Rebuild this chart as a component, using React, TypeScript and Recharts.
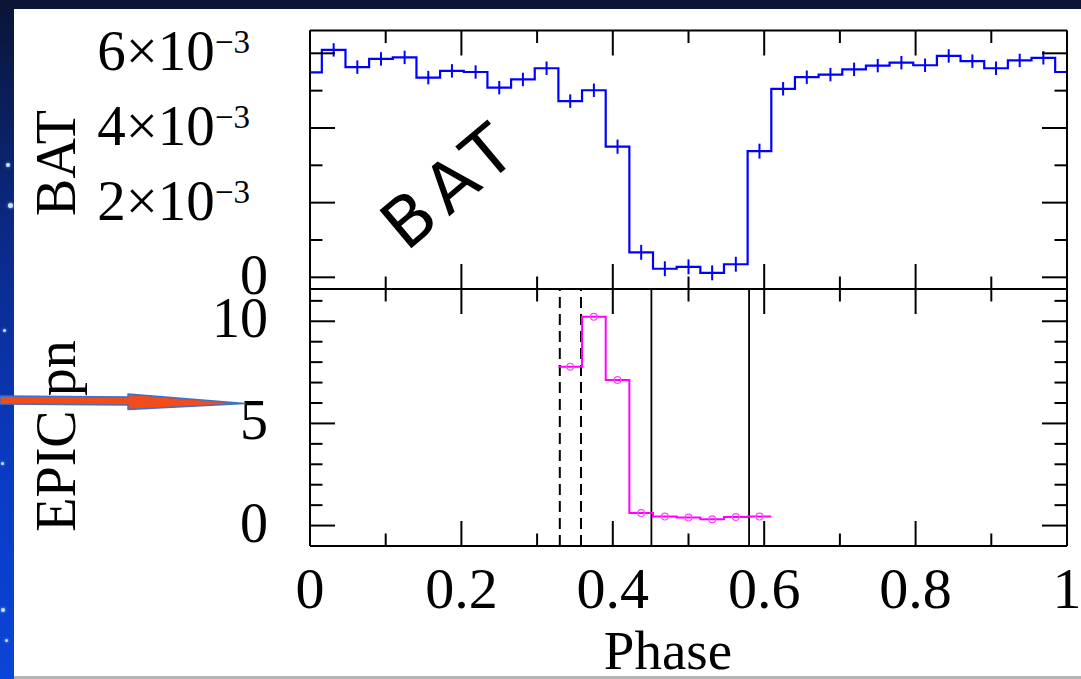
import React from 'react';
import { ComposedChart, Line, XAxis, YAxis, ErrorBar, ReferenceLine } from 'recharts';

// ---------- data ----------
const batPhase = [
  0, 0.03125, 0.0625, 0.09375, 0.125, 0.15625, 0.1875, 0.21875, 0.25, 0.28125, 0.3125,
  0.34375, 0.375, 0.40625, 0.4375, 0.46875, 0.5, 0.53125, 0.5625, 0.59375, 0.625,
  0.65625, 0.6875, 0.71875, 0.75, 0.78125, 0.8125, 0.84375, 0.875, 0.90625, 0.9375,
  0.96875, 1,
];
const batRate = [
  5.49e-3, 6.09e-3, 5.63e-3, 5.85e-3, 5.89e-3, 5.35e-3, 5.53e-3, 5.5e-3, 5.08e-3, 5.3e-3, 5.6e-3,
  4.72e-3, 5.01e-3, 3.5e-3, 0.67e-3, 0.23e-3, 0.28e-3, 0.12e-3, 0.35e-3, 3.38e-3, 5.05e-3,
  5.36e-3, 5.43e-3, 5.57e-3, 5.67e-3, 5.75e-3, 5.68e-3, 5.93e-3, 5.79e-3, 5.6e-3, 5.81e-3,
  5.88e-3, 5.5e-3,
];
const batErr = [
  0.18e-3, 0.18e-3, 0.18e-3, 0.18e-3, 0.18e-3, 0.18e-3, 0.18e-3, 0.18e-3, 0.18e-3, 0.18e-3, 0.18e-3,
  0.18e-3, 0.18e-3, 0.19e-3, 0.2e-3, 0.2e-3, 0.2e-3, 0.2e-3, 0.2e-3, 0.2e-3, 0.18e-3,
  0.18e-3, 0.18e-3, 0.18e-3, 0.18e-3, 0.18e-3, 0.18e-3, 0.18e-3, 0.18e-3, 0.18e-3, 0.18e-3,
  0.18e-3, 0.18e-3,
];
const epicPhase = [0.34375, 0.375, 0.40625, 0.4375, 0.46875, 0.5, 0.53125, 0.5625, 0.59375];
const epicRate = [7.78, 10.22, 7.12, 0.61, 0.44, 0.39, 0.31, 0.42, 0.44];
const BIN = 1 / 32;

const phaseTicks = [0, 0.1, 0.2, 0.3, 0.4, 0.5, 0.6, 0.7, 0.8, 0.9, 1];
const phaseMajor = [0, 0.2, 0.4, 0.6, 0.8, 1];
const phaseLabels = ['0', '0.2', '0.4', '0.6', '0.8', '1'];
const batTicks = [0, 0.001, 0.002, 0.003, 0.004, 0.005, 0.006];
const batMajor = [0, 0.002, 0.004, 0.006];
const batMantissa = ['0', '2', '4', '6'];
const epicTicks = [0, 1, 2, 3, 4, 5, 6, 7, 8, 9, 10, 11];
const epicMajor = [0, 5, 10];
const epicLabels = ['0', '5', '10'];
const dashedPhases = [0.33, 0.358];
const solidPhases = [0.451, 0.58];

const batDomain: [number, number] = [-0.000313, 0.006611];
const epicDomain: [number, number] = [-1, 11.58];

// ---------- derived tables ----------
const batData = batPhase.map((p, i) => ({ phase: p, rate: batRate[i], err: batErr[i] }));
const epicDots = epicPhase.map((p, i) => ({ phase: p, rate: epicRate[i] }));
const epicStep = [
  ...epicPhase.map((p, i) => ({ phase: p - BIN / 2, rate: epicRate[i] })),
  { phase: epicPhase[epicPhase.length - 1] + BIN / 2, rate: epicRate[epicRate.length - 1] },
];

// ---------- layout ----------
const W = 1081;
const H = 679;
const PL = 310;
const PR = 1067;
const TOP = 30.5;
const MID = 289;
const BOT = 546;
const FONT = '"Liberation Serif", "Times New Roman", serif';

const near = (arr: number[], v: number) => arr.findIndex((m) => Math.abs(m - v) < 1e-9);

const yTick = (side: 'left' | 'right', majors: number[], label?: (i: number, x: number, y: number) => React.ReactNode) =>
  (props: any) => {
    const { x, y, payload } = props;
    const mi = near(majors, payload.value);
    const len = mi >= 0 ? 25 : 12.5;
    const dir = side === 'left' ? 1 : -1;
    return (
      <g>
        <line x1={x} y1={y} x2={x + dir * len} y2={y} stroke="#000" strokeWidth={2} />
        {label && mi >= 0 ? label(mi, x, y) : null}
      </g>
    );
  };

const xTick = (side: 'top' | 'bottom', withLabels: boolean) => (props: any) => {
  const { x, y, payload } = props;
  const mi = near(phaseMajor, payload.value);
  const len = mi >= 0 ? 25 : 12.5;
  const dir = side === 'top' ? 1 : -1;
  return (
    <g>
      <line x1={x} y1={y} x2={x} y2={y + dir * len} stroke="#000" strokeWidth={2} />
      {withLabels && mi >= 0 ? (
        <text x={x} y={y + 62} textAnchor="middle" fontFamily={FONT} fontSize={58} fill="#000">
          {phaseLabels[mi]}
        </text>
      ) : null}
    </g>
  );
};

const batLabel = (i: number, x: number, y: number) =>
  i === 0 ? (
    <text x={x - 42} y={y + 17} textAnchor="end" fontFamily={FONT} fontSize={56} fill="#000">0</text>
  ) : (
    <text x={x - 60} y={y + 17} textAnchor="end" fontFamily={FONT} fontSize={57} fill="#000">
      {`${batMantissa[i]}×10`}
      <tspan dy={-17} fontSize={33}>−3</tspan>
    </text>
  );

const epicLabel = (i: number, x: number, y: number) => (
  <text x={x - 42} y={y + 16} textAnchor="end" fontFamily={FONT} fontSize={56} fill="#000">
    {epicLabels[i]}
  </text>
);

const axisLine = { stroke: '#000', strokeWidth: 2 };

const abs: React.CSSProperties = { position: 'absolute', left: 0, top: 0 };

export default function App() {
  return (
    <div
      style={{
        position: 'absolute',
        left: 0,
        top: 0,
        width: W,
        height: H,
        overflow: 'hidden',
        background: 'linear-gradient(180deg, #0a1535 0%, #0a2a88 35%, #0a3bc4 70%, #0b44d8 100%)',
      }}
    >
      {/* stars */}
      {[
        [8, 165, 2],
        [10, 205, 2.5],
        [4, 330, 1.5],
        [2, 463, 1.5],
        [3, 610, 2],
        [6, 640, 1.5],
      ].map(([sx, sy, r], i) => (
        <div
          key={i}
          style={{
            position: 'absolute',
            left: sx - r,
            top: sy - r,
            width: 2 * r,
            height: 2 * r,
            borderRadius: '50%',
            background: '#cfe0ff',
            boxShadow: '0 0 3px #9fc0ff',
          }}
        />
      ))}
      {/* white sheet */}
      <div style={{ position: 'absolute', left: 14, top: 9, width: W - 14, height: 667, background: '#fff' }} />
      <div style={{ position: 'absolute', left: 14, top: 676, width: W - 14, height: 3, background: '#b4b4b4' }} />

      {/* top panel: BAT */}
      <div style={abs}>
        <ComposedChart
          width={W}
          height={H}
          margin={{ left: PL - 1, right: W - PR - 1, top: TOP - 1, bottom: H - MID - 1 }}
        >
          <XAxis
            xAxisId="b"
            dataKey="phase"
            type="number"
            domain={[0, 1]}
            allowDataOverflow
            ticks={phaseTicks}
            interval={0}
            height={1}
            tickSize={0}
            tickMargin={0}
            tickLine={false}
            axisLine={axisLine}
            tick={xTick('bottom', false)}
          />
          <XAxis
            xAxisId="t"
            orientation="top"
            dataKey="phase"
            type="number"
            domain={[0, 1]}
            allowDataOverflow
            ticks={phaseTicks}
            interval={0}
            height={1}
            tickSize={0}
            tickMargin={0}
            tickLine={false}
            axisLine={axisLine}
            tick={xTick('top', false)}
          />
          <YAxis
            yAxisId="l"
            dataKey="rate"
            type="number"
            domain={batDomain}
            allowDataOverflow
            ticks={batTicks}
            interval={0}
            width={1}
            tickSize={0}
            tickMargin={0}
            tickLine={false}
            axisLine={axisLine}
            tick={yTick('left', batMajor, batLabel)}
          />
          <YAxis
            yAxisId="r"
            orientation="right"
            type="number"
            domain={batDomain}
            allowDataOverflow
            ticks={batTicks}
            interval={0}
            width={1}
            tickSize={0}
            tickMargin={0}
            tickLine={false}
            axisLine={axisLine}
            tick={yTick('right', batMajor)}
          />
          <Line
            xAxisId="b"
            yAxisId="l"
            data={batData}
            dataKey="rate"
            type="step"
            stroke="#0000ff"
            strokeWidth={2.2}
            dot={false}
            isAnimationActive={false}
          >
            <ErrorBar dataKey="err" direction="y" width={0} stroke="#0000ff" strokeWidth={2} />
          </Line>
        </ComposedChart>
      </div>

      {/* bottom panel: EPIC pn */}
      <div style={abs}>
        <ComposedChart
          width={W}
          height={H}
          margin={{ left: PL - 1, right: W - PR - 1, top: MID - 1, bottom: H - BOT - 1 }}
        >
          <XAxis
            xAxisId="b"
            dataKey="phase"
            type="number"
            domain={[0, 1]}
            allowDataOverflow
            ticks={phaseTicks}
            interval={0}
            height={1}
            tickSize={0}
            tickMargin={0}
            tickLine={false}
            axisLine={axisLine}
            tick={xTick('bottom', true)}
          />
          <XAxis
            xAxisId="t"
            orientation="top"
            dataKey="phase"
            type="number"
            domain={[0, 1]}
            allowDataOverflow
            ticks={phaseTicks}
            interval={0}
            height={1}
            tickSize={0}
            tickMargin={0}
            tickLine={false}
            axisLine={axisLine}
            tick={xTick('top', false)}
          />
          <YAxis
            yAxisId="l"
            dataKey="rate"
            type="number"
            domain={epicDomain}
            allowDataOverflow
            ticks={epicTicks}
            interval={0}
            width={1}
            tickSize={0}
            tickMargin={0}
            tickLine={false}
            axisLine={axisLine}
            tick={yTick('left', epicMajor, epicLabel)}
          />
          <YAxis
            yAxisId="r"
            orientation="right"
            type="number"
            domain={epicDomain}
            allowDataOverflow
            ticks={epicTicks}
            interval={0}
            width={1}
            tickSize={0}
            tickMargin={0}
            tickLine={false}
            axisLine={axisLine}
            tick={yTick('right', epicMajor)}
          />
          {dashedPhases.map((p) => (
            <ReferenceLine key={`d${p}`} xAxisId="b" yAxisId="l" x={p} stroke="#000" strokeWidth={2} strokeDasharray="11 6" />
          ))}
          {solidPhases.map((p) => (
            <ReferenceLine key={`s${p}`} xAxisId="b" yAxisId="l" x={p} stroke="#000" strokeWidth={1.8} />
          ))}
          <Line
            xAxisId="b"
            yAxisId="l"
            data={epicStep}
            dataKey="rate"
            type="stepAfter"
            stroke="#ff00ff"
            strokeWidth={2}
            dot={false}
            isAnimationActive={false}
          />
          <Line
            xAxisId="b"
            yAxisId="l"
            data={epicDots}
            dataKey="rate"
            type="linear"
            stroke="none"
            dot={{ r: 3.4, stroke: '#ff44ff', strokeWidth: 1.2, fill: 'none' }}
            isAnimationActive={false}
          />
        </ComposedChart>
      </div>

      {/* titles, annotation, arrow */}
      <svg width={W} height={H} style={{ ...abs, pointerEvents: 'none' }}>
        <text x={75} y={163} transform="rotate(-90 75 163)" textAnchor="middle" fontFamily={FONT} fontSize={56} fill="#000">
          BAT
        </text>
        <text x={75} y={436} transform="rotate(-90 75 436)" textAnchor="middle" fontFamily={FONT} fontSize={56} fill="#000">
          EPIC pn
        </text>
        <text x={668} y={669} textAnchor="middle" fontFamily={FONT} fontSize={55} fill="#000">
          Phase
        </text>
        <text
          x={450}
          y={208}
          transform="rotate(-40 450 183)"
          textAnchor="middle"
          fontFamily='"DejaVu Sans", sans-serif'
          fontSize={68}
          letterSpacing={9}
          fill="#000"
        >
          BAT
        </text>
        <polygon
          points="0,396 128,397 128,394 245,403.5 128,409.5 128,405 0,404"
          fill="#f24b1c"
          stroke="#3f70c2"
          strokeWidth={1.5}
          strokeLinejoin="round"
        />
      </svg>
    </div>
  );
}
